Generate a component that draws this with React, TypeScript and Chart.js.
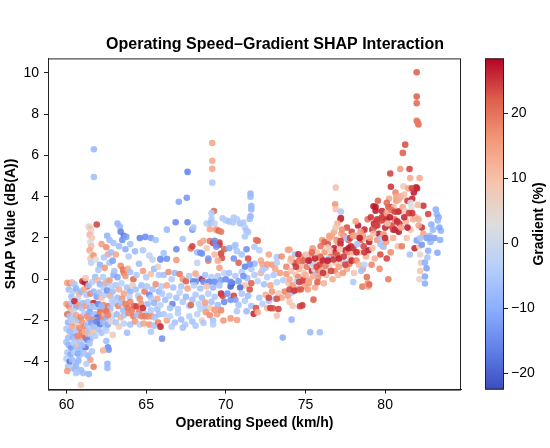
import { useEffect, useRef } from "react";
import Chart from "chart.js/auto";

// [operating speed km/h, SHAP value dB(A), gradient %]
type Pt = [number, number, number];

const speed60to61: Pt[] = [
  [60.05, -0.18, 14], [60.2, -0.2, 17], [60.35, -0.15, 11], [60.5, -0.25, -5],
  [60.15, -0.5, -7], [60.4, -0.6, -4], [60.6, -0.45, -9], [60.8, -0.7, 12], [60.3, -0.85, -6], [60.7, -0.95, -3], [60.9, -0.6, -8],
  [60.0, -1.2, 15], [60.15, -1.3, 18], [60.3, -1.15, -5], [60.5, -1.07, 26], [60.6, -1.35, -11], [60.8, -1.25, 16], [60.95, -1.4, -6], [60.25, -1.5, 12], [60.45, -1.55, -2],
  [60.05, -1.7, 20], [60.2, -1.8, -6], [60.4, -1.9, -4], [60.6, -1.75, 14], [60.75, -2.0, -7], [60.9, -1.85, 18], [60.1, -2.1, -9], [60.5, -2.15, 10], [60.3, -2.0, -4],
  [60.0, -2.4, -5], [60.2, -2.55, -8], [60.35, -2.3, 14], [60.5, -2.6, -6], [60.65, -2.45, -4], [60.8, -2.35, 17], [60.95, -2.6, 19], [60.1, -2.85, -7], [60.4, -2.8, -10], [60.7, -2.9, -5], [60.9, -2.8, 15], [60.55, -2.9, -6],
  [60.0, -3.05, -6], [60.15, -3.2, -9], [60.3, -3.35, -13], [60.45, -3.1, -4], [60.6, -3.3, -7], [60.75, -3.2, 10], [60.9, -3.4, -8], [60.05, -3.55, -5], [60.25, -3.65, -11], [60.5, -3.55, -3], [60.8, -3.7, -6], [60.85, -3.05, -5],
  [60.0, -3.85, -4], [60.2, -4.0, -18], [60.35, -3.9, -7], [60.55, -4.05, -5], [60.75, -3.95, -9], [60.1, -4.25, -6], [60.3, -4.3, -2], [60.05, -4.45, 16], [60.5, -4.35, -8], [60.7, -4.5, -4], [60.9, -4.4, -7],
  [60.9, -5.13, 7], [60.6, -4.2, -8], [60.7, -2.75, 18], [60.7, -3.6, -10], [60.6, -4.55, -5],
];

const speed61to63: Pt[] = [
  [61.4, 2.55, 6], [61.5, 2.45, 9], [61.55, 2.3, 4], [61.45, 2.15, 11], [61.6, 2.0, 8], [61.5, 1.8, 2], [61.55, 1.6, 10], [61.45, 1.4, 13], [61.6, 1.2, 5], [61.5, 1.0, 8], [61.55, 0.8, -3], [61.9, 2.65, 24], [61.7, 1.15, 16], [61.85, 0.95, 3],
  [61.72, 6.3, -8], [61.72, 4.95, -7],
  [62.2, 1.7, 15], [62.5, 1.55, 17], [62.6, 1.2, 14], [62.35, 1.05, -5], [62.8, 1.3, -7], [62.1, 0.7, -9], [62.4, 0.55, 16], [62.7, 0.8, -6], [62.9, 0.9, -12], [62.0, 0.45, -5],
  [62.55, 2.1, -9], [62.7, 1.9, -7], [62.95, 1.75, -6],
  [61.0, -0.1, 25], [61.15, -0.15, 27], [61.3, -0.35, 24], [61.1, -0.5, 13], [61.4, -0.3, -6], [61.6, -0.15, -4], [61.8, 0.1, -7], [61.95, -0.05, 11], [61.2, 0.05, 9], [62.1, -0.25, -9], [62.3, 0.1, -4], [62.45, -0.2, 14], [62.6, -0.1, -6], [62.8, -0.3, -3], [62.95, 0.2, -10], [62.35, -0.4, -5], [62.7, -0.05, 15],
  [61.25, -0.75, -5], [61.5, -0.7, 18], [61.7, -0.6, -8], [61.9, -0.85, -12], [62.05, -0.65, -6], [62.2, -0.9, 10], [62.4, -0.75, -4], [62.55, -0.55, -14], [62.75, -0.8, 13], [62.9, -0.6, -7], [62.85, -1.0, -4],
  [61.05, -1.15, -7], [61.2, -1.3, 15], [61.35, -1.1, -5], [61.5, -1.4, -9], [61.7, -1.15, 26], [61.85, -1.35, -6], [62.0, -1.2, -15], [62.15, -1.45, -7], [62.3, -1.25, 18], [62.45, -1.5, 16], [62.6, -1.3, 19], [62.75, -1.45, -6], [62.9, -1.2, -4], [61.6, -1.3, -5], [62.2, -1.3, -8],
  [61.1, -1.65, -4], [61.3, -1.8, 17], [61.45, -1.6, -11], [61.6, -1.95, -14], [61.75, -1.7, -7], [61.95, -1.85, -18], [62.1, -1.6, 20], [62.25, -1.9, 19], [62.4, -1.7, 13], [62.55, -1.85, -9], [62.7, -1.65, 8], [62.85, -1.9, -3], [62.5, -1.55, 20], [62.6, -1.75, 18], [61.4, -1.9, 16], [61.8, -2.0, 14],
  [61.0, -2.1, 16], [61.15, -2.3, 18], [61.3, -2.2, -6], [61.25, -2.5, 20], [61.4, -2.4, -4], [61.55, -2.1, -12], [61.7, -2.3, -7], [61.9, -2.05, -16], [62.1, -2.2, -18], [62.3, -2.1, -8], [62.45, -2.35, -5], [62.6, -2.2, -11], [62.8, -2.05, 5], [62.0, -2.45, -6],
  [61.1, -2.7, 19], [61.2, -2.85, 21], [61.35, -2.65, -5], [61.5, -2.9, -7], [61.65, -2.6, 10], [61.8, -2.75, -4], [62.2, -2.6, -6], [62.5, -2.5, -3], [62.9, -2.7, 8], [61.15, -2.55, 12],
  [61.2, -3.3, -18], [61.3, -2.95, -15], [61.45, -3.1, -6], [61.6, -3.5, -5], [61.5, -3.9, 15], [61.7, -4.24, 19], [61.35, -3.7, -8], [61.1, -3.6, -6], [61.25, -4.1, -4], [61.05, -4.55, -7], [61.4, -4.6, -9], [61.0, -3.2, -7],
  [62.57, -4.1, -9], [62.57, -4.3, -8], [62.6, -3.3, -15], [62.65, -3.42, -13], [62.3, -3.45, 12], [62.5, -3.0, -7],
];

const speed63to66: Pt[] = [
  [63.2, 2.7, -9], [63.35, 2.55, -8], [63.4, 2.3, -16], [63.6, 2.1, -17], [63.5, 1.9, -14], [63.75, 2.05, -12], [63.3, 1.6, -7], [63.7, 1.45, -10], [64.0, 1.7, -6],
  [64.6, 2.0, -16], [64.95, 2.05, -15], [65.3, 2.0, -12], [65.6, 1.9, -6], [64.3, 1.35, -8], [64.8, 1.4, -5], [65.2, 1.15, -3], [63.1, 1.2, 14], [63.9, 1.1, -4],
  [63.4, 0.65, 17], [63.55, 0.45, 20], [63.6, 0.3, 19], [63.7, 0.15, 16], [63.85, 0.5, 13], [64.0, 0.35, -6], [64.2, 0.0, 21], [64.4, 0.2, -5], [64.8, 0.4, 15], [65.0, 0.1, -4], [65.3, 0.25, 10], [65.5, 0.5, -7], [65.8, 0.2, -5], [63.2, 0.1, -11], [63.0, 0.4, -6], [64.55, 0.75, -7], [65.4, 0.95, -2], [65.9, 0.95, -15], [65.75, 0.6, 7],
  [63.1, -0.3, -5], [63.3, -0.5, 12], [63.45, -0.2, -3], [63.6, -0.7, 14], [63.8, -0.4, -6], [64.0, -0.6, -9], [64.15, -0.3, 8], [64.35, -0.5, -6], [64.5, -0.8, -4], [64.7, -0.3, -7], [64.9, -0.6, 19], [65.05, -0.35, -5], [65.2, -0.75, -16], [65.4, -0.5, -6], [65.6, -0.25, 17], [65.8, -0.6, -8], [65.95, -0.35, -4],
  [63.2, -0.9, -7], [63.5, -0.95, 16], [63.95, -0.85, -3], [64.6, -0.95, 17], [65.3, -0.9, -5], [65.7, -0.95, 13],
  [63.05, -1.1, -4], [63.25, -1.3, 18], [63.4, -1.15, -6], [63.55, -1.5, -7], [63.7, -1.2, 19], [63.85, -1.4, 20], [64.0, -1.1, 18], [64.1, -1.5, 19], [64.25, -1.3, 21], [64.4, -1.32, 24], [64.55, -1.6, 19], [64.7, -1.2, 17], [64.8, -1.4, 26], [64.95, -1.7, -5], [65.1, -1.2, -7], [65.3, -1.5, -4], [65.5, -1.15, -9], [65.7, -1.45, -6], [65.9, -1.25, -3],
  [63.15, -1.7, -8], [63.4, -1.85, 12], [63.6, -1.75, -5], [63.9, -1.65, 18], [64.2, -1.8, 19], [64.45, -1.75, -6], [64.7, -1.8, 18], [64.9, -1.8, 19], [65.1, -1.8, 18], [65.35, -1.8, 17], [65.55, -1.85, -5], [65.8, -1.7, -7],
  [63.1, -2.1, -5], [63.3, -2.3, 7], [63.6, -2.15, -3], [64.0, -2.2, -6], [64.3, -2.05, 16], [64.6, -2.2, -4], [64.85, -2.15, 14], [65.2, -2.2, 16], [65.5, -2.25, -6], [65.75, -2.1, 18], [65.9, -2.3, 26],
  [63.8, -2.6, -7], [65.3, -2.55, -5], [66.0, -2.88, -14],
];

const speed66to70: Pt[] = [
  [67.6, 5.2, -16], [67.55, 3.95, -13], [67.05, 3.75, -11], [66.85, 2.76, -15], [67.6, 2.76, -16], [67.9, 2.4, -13], [66.3, 2.4, -8], [66.9, 1.45, -15], [65.9, 0.99, -13], [66.3, 0.99, -14], [66.1, 1.27, -6], [66.9, 0.93, 16], [67.8, 1.49, 20], [67.3, 1.95, -6],
  [69.15, 6.6, 14], [69.15, 5.74, 13], [69.15, 5.35, 14], [69.15, 4.68, -5], [69.25, 3.3, 21], [69.1, 3.2, -4], [69.1, 2.92, -5],
  [67.96, 2.5, -5], [68.8, 2.7, -4], [69.05, 2.72, -6], [69.3, 2.7, -3], [69.0, 2.42, 14], [69.4, 2.4, 16], [69.55, 2.35, 21], [69.7, 2.3, 19],
  [69.8, 2.95, -5], [70.0, 2.85, -4], [70.2, 2.8, -6],
  [67.9, 1.6, 24], [68.2, 1.3, -7], [68.5, 1.24, -14], [68.8, 1.5, 8], [69.0, 1.85, 20], [69.2, 1.75, 24], [69.4, 1.67, -14], [69.6, 1.67, 25], [69.7, 1.24, 24], [69.75, 1.03, 23], [69.5, 0.9, 13], [69.6, 0.55, 15], [68.9, 0.9, 19], [69.3, 1.2, 11], [68.4, 1.75, 15], [69.9, 1.45, 22],
  [68.6, 1.86, 13], [69.6, 1.78, 24], [69.3, 1.86, -15], [69.4, 1.57, -14], [68.4, 1.28, -14], [68.9, 1.0, -13], [68.2, 0.79, -2],
  [66.1, 0.2, -6], [66.4, 0.35, 17], [66.6, 0.0, -4], [66.8, 0.3, -8], [67.1, 0.25, 19], [67.3, 0.0, 16], [67.5, -0.1, 22], [67.7, 0.15, -5], [67.95, -0.1, -15], [68.1, 0.27, 14], [68.3, 0.05, -4], [68.5, 0.0, 26], [68.7, 0.2, -6], [69.1, 0.1, -4], [69.5, 0.15, -5], [69.7, -0.05, -12], [69.9, 0.3, -3],
  [68.1, -0.13, -15], [68.6, -0.13, -14], [68.95, -0.13, -16], [69.3, -0.13, -15],
  [66.3, -0.3, 13], [66.7, -0.4, -6], [67.2, -0.35, -5], [67.6, -0.45, 14], [68.0, -0.3, -3], [68.4, -0.45, -6], [68.8, -0.35, 10], [69.2, -0.4, -8], [69.6, -0.3, -6],
  [66.0, -0.7, -5], [66.2, -1.0, -7], [66.45, -0.8, -4], [66.65, -1.2, -16], [66.9, -0.9, -6], [67.1, -0.65, -3], [67.3, -1.1, -5], [67.5, -0.85, -8], [67.7, -1.3, -4], [67.9, -1.0, -6], [68.1, -0.75, -5], [68.3, -1.2, -3], [68.5, -0.9, -7], [68.7, -1.35, -5], [68.9, -0.7, -4], [69.1, -1.1, -6], [69.3, -0.85, -5], [69.5, -1.25, -7], [69.7, -0.7, 26], [69.8, -0.8, 24], [69.9, -1.1, -15],
  [66.5, -1.4, -6], [67.0, -1.45, -4], [67.8, -1.25, 21], [68.4, -1.45, -3], [69.0, -1.4, 8], [68.7, -1.13, 15], [69.3, -1.48, 16],
  [66.1, -1.7, -5], [66.3, -2.0, 14], [66.5, -1.8, -3], [66.8, -2.1, -6], [67.0, -1.65, -4], [67.2, -1.95, -7], [67.45, -2.2, -5], [67.7, -1.8, -4], [67.9, -2.05, -6], [68.2, -1.7, -3], [68.5, -2.0, 7], [68.75, -1.6, 16], [69.0, -1.75, 17], [69.2, -2.0, -6], [69.45, -1.7, 15], [69.7, -1.5, 18], [69.85, -2.0, 16],
  [66.6, -2.3, -4], [67.3, -2.35, -6], [68.1, -2.25, -5], [68.6, -2.12, -5], [69.2, -2.19, -4],
];

const speed70to74: Pt[] = [
  [71.55, 4.15, -9], [71.55, 4.0, -8], [71.6, 3.55, -9], [71.6, 3.38, -8], [71.55, 3.05, -9], [71.5, 2.92, -7],
  [70.5, 2.99, -5], [70.7, 2.9, -4], [70.45, 2.75, -5], [70.9, 2.7, -6], [71.1, 2.75, -5], [71.2, 2.5, -4], [71.3, 2.35, -6], [71.4, 2.28, -5], [71.2, 2.07, -5], [72.0, 1.86, 22],
  [70.5, 1.57, -4], [70.7, 1.36, -5], [71.8, 1.57, -5], [72.1, 1.4, -4], [73.2, 1.07, -5], [73.9, 1.43, 14],
  [70.5, 1.0, -14], [70.8, 0.8, 22], [71.0, 1.2, -6], [71.2, 0.6, -16], [71.4, 1.0, 23], [71.6, 0.5, -5], [71.9, 1.9, 20], [71.8, 0.75, -8], [72.2, 0.9, 13], [72.5, 0.55, -5], [72.7, 1.2, 14], [72.9, 0.7, 16], [73.2, 0.8, -4], [73.5, 1.1, 17], [73.8, 0.6, 18], [70.2, 1.5, -10], [70.6, 1.65, -6], [71.3, 1.45, -14],
  [71.5, 0.72, -14], [72.3, 0.72, 14], [72.6, 0.72, 15],
  [70.0, 0.0, -15], [70.2, 0.3, -6], [70.4, -0.2, -18], [70.6, 0.15, -5], [70.8, -0.1, -12], [71.0, 0.35, -4], [71.2, -0.3, 8], [71.35, 0.05, -7], [71.5, -0.5, 23], [71.6, -0.2, 22], [71.8, 0.2, -5], [72.0, -0.1, -3], [72.2, 0.3, 12], [72.4, -0.25, -6], [72.6, 0.1, -4], [72.8, -0.3, 14], [73.0, 0.2, -5], [73.2, -0.15, -3], [73.4, 0.3, 15], [73.6, -0.05, -4], [73.8, 0.25, 16], [73.95, -0.2, 10],
  [70.3, -0.35, -20], [70.9, -0.4, -19], [72.3, 0.45, -5], [73.1, 0.5, 14], [70.3, -0.13, -15], [71.1, 0.15, -14],
  [70.1, -0.7, -13], [70.3, -1.0, -14], [70.5, -0.8, 24], [70.6, -1.0, -12], [70.8, -1.25, -6], [71.0, -0.7, -5], [71.2, -1.05, -4], [71.4, -0.8, -7], [71.6, -1.3, -6], [71.75, -1.68, 26], [71.9, -1.4, 23], [72.1, -0.9, -5], [72.3, -1.2, -4], [72.5, -0.75, 12], [72.7, -1.05, -6], [72.9, -0.6, 16], [73.1, -0.95, -5], [73.3, -0.7, 8], [73.5, -0.9, 14], [73.7, -0.6, 18], [73.9, -0.8, 15],
  [70.3, -1.9, 16], [70.7, -1.98, 15], [70.7, -1.55, -5], [71.3, -1.55, -8], [72.0, -1.6, 13], [72.6, -1.4, 12],
  [72.7, -0.9, 24], [73.2, -0.95, 23], [72.8, -1.4, 25], [73.3, -1.45, 24], [72.95, -1.41, 23], [73.2, -1.77, 9],
];

const speed74to78: Pt[] = [
  [74.0, 0.0, 13], [74.1, 0.4, 10], [74.2, -0.3, 16], [74.3, 0.8, 24], [74.4, 0.2, 9], [74.5, -0.5, 20], [74.6, 0.5, 12], [74.7, 1.0, 15], [74.8, -0.1, 26], [74.9, 0.3, 8], [74.15, -0.65, -5], [74.35, 1.2, -6], [74.55, 0.1, 17], [74.75, 0.65, 11], [74.95, -0.35, 14], [74.05, 0.9, 7], [74.45, -0.1, -4], [74.85, 0.9, 22],
  [74.0, 1.43, 14], [74.1, 1.0, 12], [74.56, 1.21, 26], [75.0, 1.15, 20], [75.3, 1.15, 22], [75.9, 1.1, 23], [76.0, 1.0, 21],
  [74.0, -0.5, 24], [74.3, -0.56, 25], [74.6, -0.14, 24], [74.7, -0.5, 23], [74.8, -1.27, 25], [74.65, -1.31, 24], [75.5, -0.99, 22], [74.0, -1.1, 9], [74.2, -1.3, 8],
  [74.4, 0.6, 25], [74.9, 0.0, 23], [74.6, 0.9, 20],
  [75.0, 0.2, 12], [75.1, 0.6, 20], [75.2, -0.2, 16], [75.3, 1.0, 14], [75.4, 0.4, 26], [75.5, 0.8, 10], [75.6, -0.4, 13], [75.7, 1.3, 9], [75.8, 0.1, 17], [75.9, 0.7, 24], [75.05, 1.2, 7], [75.25, 0.0, 11], [75.45, 1.5, 16], [75.65, 0.35, -5], [75.85, 1.05, 19], [75.15, -0.5, 15], [75.55, 0.5, 5], [75.95, 1.6, 20], [75.35, 0.75, -3], [75.75, -0.15, 22],
  [75.2, -0.1, 14], [75.5, 0.15, 13], [75.8, 0.43, 19], [76.3, 0.43, 3], [75.2, 0.9, 27], [75.6, 1.0, 26], [75.7, 0.6, 24], [75.4, 1.3, 21],
  [76.0, 0.4, 14], [76.1, 0.9, 26], [76.2, 1.3, 16], [76.3, 0.2, 11], [76.4, 1.7, 23], [76.5, 0.6, 8], [76.6, 1.1, 20], [76.7, 0.0, 13], [76.8, 1.5, 27], [76.9, 0.8, 10], [76.05, 1.9, 15], [76.25, 0.65, 19], [76.45, 1.0, -4], [76.65, 2.1, 14], [76.85, 0.4, 18], [76.15, -0.2, 12], [76.55, 1.4, 9], [76.75, 0.95, 25], [76.95, 1.9, 17], [76.35, 1.55, 7],
  [76.1, 0.3, 25], [76.4, 0.9, 27], [76.6, 0.4, 24], [76.9, 1.3, 26], [76.2, 1.8, 22],
  [76.5, 2.1, 14], [76.8, 2.3, 13], [76.5, 2.0, 14], [76.97, 1.8, 13],
  [76.9, 4.44, 10], [76.86, 3.63, 16], [76.9, 3.39, 9], [77.22, 3.28, -5], [77.22, 2.96, 26], [77.2, 2.9, 25], [77.0, 2.7, 12], [76.9, 2.5, 9],
  [77.0, 1.2, 22], [77.1, 0.6, 15], [77.2, 1.7, 26], [77.3, 0.9, 10], [77.4, 2.1, 19], [77.5, 1.4, 27], [77.6, 0.5, 13], [77.7, 1.9, 21], [77.8, 1.0, 8], [77.9, 2.3, 24], [77.05, 0.2, 11], [77.25, 2.2, 14], [77.45, 0.8, -4], [77.65, 1.3, 18], [77.85, 1.6, 26], [77.15, 1.45, 9], [77.35, 0.3, 16], [77.55, 2.0, -6], [77.75, 0.75, 20], [77.95, 1.3, 12], [77.6, 2.5, 23], [77.3, 2.4, 17], [77.2, 1.85, 25],
  [77.1, 1.0, 27], [77.4, 1.1, 25], [77.5, 0.7, 24], [77.7, 1.5, 27], [77.9, 0.9, 26], [77.8, 2.0, 24],
];

const speed78to84: Pt[] = [
  [78.0, 1.5, 25], [78.1, 2.1, 13], [78.2, 0.9, 18], [78.3, 2.6, 27], [78.4, 1.3, 10], [78.5, 1.9, 22], [78.6, 0.5, 15], [78.7, 2.4, 26], [78.8, 1.1, 12], [78.9, 2.9, 20], [78.05, 0.3, 9], [78.25, 1.7, -6], [78.45, 2.3, 16], [78.57, -0.36, 19], [78.65, 1.6, 24], [78.85, 0.1, 20], [78.15, 2.8, 14], [78.35, 0.7, 11], [78.75, 1.95, 8], [78.95, 1.4, 27],
  [78.0, -0.14, -5], [78.5, 0.4, -6], [78.7, 0.7, -3], [78.9, -0.2, 15], [78.95, -0.35, 14], [78.0, 2.1, 14], [78.3, 2.1, 13], [78.6, 2.1, 15],
  [78.2, 1.3, 26], [78.4, 2.0, 27], [78.7, 1.3, 25], [79.0, 1.8, 27], [79.2, 2.4, 26], [79.6, 2.2, 27],
  [79.0, -0.26, 21], [79.05, 2.0, 14], [79.1, 3.0, 25], [79.2, 1.5, 11], [79.3, 2.5, 20], [79.4, 3.5, 27], [79.5, 1.9, 16], [79.6, 2.8, 9], [79.7, 1.2, 23], [79.8, 3.3, 26], [79.9, 2.2, 13], [79.15, 0.7, 18], [79.35, 1.0, 12], [79.55, 3.8, 22], [79.75, 2.0, -5], [79.95, 3.0, 24], [79.25, 2.2, 10], [79.65, 0.5, 17], [79.85, 1.6, 15], [79.45, 2.8, 19],
  [79.3, 2.7, 26], [79.5, 2.6, 25], [79.8, 3.0, 25], [80.0, 3.06, 24], [80.1, 1.0, 24], [79.7, 1.7, -6], [79.9, 1.57, -5], [79.27, 3.53, 27], [79.4, 3.32, 27],
  [79.5, 2.9, 25], [79.8, 2.85, 24], [80.1, 2.85, 25], [79.4, 2.6, 24], [80.3, 2.6, 25], [80.5, 2.4, 24], [79.9, 2.14, 15],
  [80.0, 2.5, 26], [80.1, 3.2, 14], [80.2, 0.0, 19], [80.32, 5.12, 24], [80.36, 4.48, 25], [80.4, 3.5, 27], [80.5, 2.0, 12], [80.6, 2.9, 20], [80.7, 3.8, 16], [80.8, 1.6, 10], [80.9, 3.3, 23], [80.95, 5.34, 15], [80.05, 1.8, 15], [80.25, 3.9, 13], [80.45, 2.6, 22], [80.65, 4.2, 18], [80.85, 2.3, 27], [80.15, 2.7, 9], [80.55, 3.5, 8], [80.75, 2.8, 26], [80.35, 1.3, 17], [80.95, 4.0, 12],
  [80.0, 2.0, 26], [80.3, 3.0, 27], [80.6, 2.4, 26], [80.9, 2.7, 25],
  [80.1, 3.7, 21], [80.2, 3.5, 22], [80.4, 3.35, 20], [80.7, 4.0, 14], [80.85, 3.85, 13], [81.0, 4.0, 12], [80.6, 3.27, 24], [80.8, 3.27, 25],
  [81.0, 2.5, 14], [81.11, 6.12, 22], [81.26, 6.52, 23], [81.1, 3.5, 13], [81.2, 4.1, 10], [81.3, 2.8, 12], [81.4, 3.8, 25], [81.5, 3.2, 11], [81.53, 5.34, 24], [81.6, 2.4, 9], [81.57, 4.9, 13], [81.7, 3.9, 26], [81.8, 4.2, 27], [81.9, 3.0, 12], [81.05, 1.6, 19], [81.15, 4.5, 8], [81.35, 2.0, 10], [81.45, 4.4, 14], [81.55, 1.2, -6], [81.75, 2.9, 12], [81.85, 1.5, 26], [81.95, 4.45, 26], [81.25, 3.3, 7], [81.65, 3.5, 3],
  [81.2, 3.0, 26], [81.4, 2.5, 27],
  [81.5, 3.2, 24], [81.7, 3.2, 25], [81.6, 3.7, 3], [81.68, 4.41, 24], [82.16, 4.9, 13], [82.4, 3.56, 25], [82.7, 3.16, 24],
  [81.98, 10.03, 22], [81.98, 8.85, 22], [81.98, 8.53, 21], [81.98, 7.68, 20], [82.09, 7.5, 21], [82.05, 7.6, 19],
  [82.0, 4.4, 26], [82.05, 3.6, 11], [82.1, 2.9, 13], [82.2, 2.0, 9], [82.15, 1.6, 7], [82.2, 1.2, 5], [82.25, 0.8, 8], [82.2, 0.4, 9], [82.15, 0.0, 6], [82.3, 2.5, 25], [82.4, 2.2, 14], [82.1, 2.6, 14],
  [83.18, 3.38, -10], [83.25, 3.15, -9], [83.35, 3.0, -11], [83.3, 2.85, -8], [82.9, 2.65, -10], [83.5, 2.35, -9], [83.4, 2.5, -11], [83.0, 2.4, -8],
  [81.98, 1.88, -12], [82.3, 1.67, -13], [82.7, 1.38, -10], [83.28, 1.28, -11], [82.5, 0.81, -10], [82.6, 0.53, -12], [82.5, 0.13, -11], [82.5, -0.21, -10], [82.85, 1.8, -9], [83.1, 2.0, -12], [83.45, 1.9, -10], [82.65, 1.05, -6], [82.8, 2.1, -7],
  [82.2, 2.0, -5], [82.6, 2.0, -12], [82.8, 2.0, -11],
];

const lowOutliers: Pt[] = [
  [73.57, -2.83, -10], [74.13, -1.96, -9], [75.3, -2.57, -8], [75.9, -2.57, -7],
];

const speedTicks = [60, 65, 70, 75, 80];
const shapTicks = [-4, -2, 0, 2, 4, 6, 8, 10];
const gradientTicks = [-20, -10, 0, 10, 20];

const speedRange = [58.84, 84.76];
const shapRange = [-5.35, 10.7];
const gradientRange = [-22.6, 28.36];

// matplotlib "coolwarm", sampled at 9 even stops
const coolwarm = [
  [59, 76, 192], [98, 130, 234], [141, 176, 254], [184, 208, 249], [221, 221, 221],
  [245, 196, 173], [244, 154, 123], [222, 96, 77], [180, 4, 38],
];

const FONT = "'Liberation Sans', Arial, Helvetica, sans-serif";

function coolwarmColor(g: number, alpha = 1) {
  const t = Math.min(1, Math.max(0, (g - gradientRange[0]) / (gradientRange[1] - gradientRange[0])));
  const f = t * (coolwarm.length - 1);
  const i = Math.min(coolwarm.length - 2, Math.floor(f));
  const k = f - i;
  const c = coolwarm[i].map((v, j) => Math.round(v + (coolwarm[i + 1][j] - v) * k));
  return `rgba(${c[0]},${c[1]},${c[2]},${alpha})`;
}

const fmt = (v: number) => (v < 0 ? "\u2212" + Math.abs(v) : String(v));

const frameAndColorbar = {
  id: "frameAndColorbar",
  afterDraw(chart: any) {
    const { ctx, chartArea } = chart;
    const cb = chart.scales.cb;
    const x0 = chartArea.right + 24;
    const w = 19;
    ctx.save();

    const grad = ctx.createLinearGradient(0, cb.bottom, 0, cb.top);
    coolwarm.forEach((c, i) => grad.addColorStop(i / (coolwarm.length - 1), `rgb(${c[0]},${c[1]},${c[2]})`));
    ctx.fillStyle = grad;
    ctx.fillRect(x0, cb.top, w, cb.bottom - cb.top);

    ctx.strokeStyle = "#222";
    ctx.lineWidth = 1;
    ctx.strokeRect(x0 + 0.5, cb.top + 0.5, w - 1, cb.bottom - cb.top - 1);
    gradientTicks.forEach((v) => {
      const y = Math.round(cb.getPixelForValue(v)) + 0.5;
      ctx.beginPath();
      ctx.moveTo(x0 + w, y);
      ctx.lineTo(x0 + w + 4, y);
      ctx.stroke();
    });

    ctx.strokeRect(chartArea.left + 0.5, chartArea.top + 0.5, chartArea.right - chartArea.left - 1, chartArea.bottom - chartArea.top);

    ctx.translate(543, (cb.top + cb.bottom) / 2);
    ctx.rotate(-Math.PI / 2);
    ctx.font = `bold 14px ${FONT}`;
    ctx.fillStyle = "#000";
    ctx.textAlign = "center";
    ctx.textBaseline = "alphabetic";
    ctx.fillText("Gradient (%)", 0, 0);
    ctx.restore();
  },
};

export default function App() {
  const canvasRef = useRef<HTMLCanvasElement | null>(null);

  useEffect(() => {
    if (!canvasRef.current) return;
    const points = [
      ...speed60to61, ...speed61to63, ...speed63to66, ...speed66to70,
      ...speed70to74, ...speed74to78, ...speed78to84, ...lowOutliers,
    ];

    const tickFont = { family: FONT, size: 14 };
    const titleFont = { family: FONT, size: 14, weight: "bold" as const };

    const chart = new Chart(canvasRef.current, {
      type: "scatter",
      data: {
        datasets: [
          {
            data: points.map(([x, y]) => ({ x, y })),
            pointBackgroundColor: points.map((p) => coolwarmColor(p[2], 0.88)),
            pointBorderWidth: 0,
            pointRadius: 3.3,
          },
        ],
      },
      options: {
        responsive: false,
        animation: false,
        events: [],
        layout: { padding: 0 },
        plugins: {
          legend: { display: false },
          tooltip: { enabled: false },
          title: {
            display: true,
            text: "Operating Speed\u2013Gradient SHAP Interaction",
            color: "#000",
            font: { family: FONT, size: 16, weight: "bold" },
            padding: { top: 3, bottom: 4 },
          },
        },
        scales: {
          x: {
            type: "linear",
            min: speedRange[0],
            max: speedRange[1],
            afterBuildTicks: (s: any) => { s.ticks = speedTicks.map((value) => ({ value })); },
            afterFit: (s: any) => { s.height = 46; },
            grid: { drawOnChartArea: false, drawTicks: true, tickLength: 4, color: "#222" },
            border: { color: "#222", width: 1 },
            ticks: { color: "#000", font: tickFont, padding: 3, maxRotation: 0, callback: (v: any) => fmt(Number(v)) },
            title: { display: true, text: "Operating Speed (km/h)", color: "#000", font: titleFont, padding: { top: 0, bottom: 4 } },
          },
          y: {
            type: "linear",
            min: shapRange[0],
            max: shapRange[1],
            afterBuildTicks: (s: any) => { s.ticks = shapTicks.map((value) => ({ value })); },
            afterFit: (s: any) => { s.width = 48; },
            grid: { drawOnChartArea: false, drawTicks: true, tickLength: 4, color: "#222" },
            border: { color: "#222", width: 1 },
            ticks: { color: "#000", font: tickFont, padding: 5, callback: (v: any) => fmt(Number(v)) },
            title: { display: true, text: "SHAP Value (dB(A))", color: "#000", font: titleFont, padding: { top: 3, bottom: 0 } },
          },
          cb: {
            type: "linear",
            position: "right",
            min: gradientRange[0],
            max: gradientRange[1],
            afterBuildTicks: (s: any) => { s.ticks = gradientTicks.map((value) => ({ value })); },
            afterFit: (s: any) => { s.width = 89; },
            grid: { display: false, drawTicks: false, drawOnChartArea: false },
            border: { display: false },
            ticks: { color: "#000", font: tickFont, padding: 50, callback: (v: any) => fmt(Number(v)) },
          },
        },
      },
      plugins: [frameAndColorbar],
    });

    return () => chart.destroy();
  }, []);

  return (
    <div style={{ position: "fixed", left: 0, top: 0, width: 550, height: 448, background: "#fff" }}>
      <canvas ref={canvasRef} width={550} height={448} style={{ width: 550, height: 448 }} />
    </div>
  );
}
